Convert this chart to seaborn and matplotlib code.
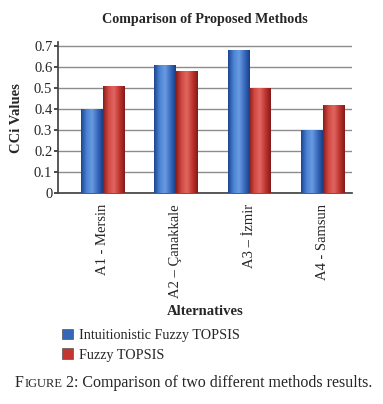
import matplotlib
matplotlib.use("Agg")
import matplotlib.pyplot as plt
import seaborn as sns
import pandas as pd
import numpy as np
from matplotlib.colors import LinearSegmentedColormap
from matplotlib.patches import Patch
from matplotlib.transforms import IdentityTransform

categories = ["A1 - Mersin", "A2 – Çanakkale", "A3 – İzmir", "A4 - Samsun"]
series_names = ["Intuitionistic Fuzzy TOPSIS", "Fuzzy TOPSIS"]
ifs_values = [0.40, 0.61, 0.68, 0.30]
fuzzy_values = [0.51, 0.58, 0.50, 0.42]
y_ticks = [0, 0.1, 0.2, 0.3, 0.4, 0.5, 0.6, 0.7]
y_tick_labels = ["0", "0.1", "0.2", "0.3", "0.4", "0.5", "0.6", "0.7"]

df = pd.DataFrame({
    "Alternative": categories * 2,
    "Method": [series_names[0]] * 4 + [series_names[1]] * 4,
    "Value": ifs_values + fuzzy_values,
})

sns.set_theme(style="white")
plt.rcParams["font.family"] = ["Liberation Serif", "DejaVu Serif"]

fig = plt.figure(figsize=(3.83, 4.04), dpi=100)
ax = fig.add_axes([0.151, 0.522, 0.768, 0.374])

palette = {series_names[0]: "#3566b8", series_names[1]: "#c23530"}
sns.barplot(data=df, x="Alternative", y="Value", hue="Method", palette=palette,
            width=0.59, ax=ax, legend=False, edgecolor="none", zorder=3)

# cylinder-like shading
cmaps = {
    "blue": LinearSegmentedColormap.from_list("b", ["#1d4590", "#4a82d4", "#6a9be0", "#3a6cbf", "#1a3f86"]),
    "red": LinearSegmentedColormap.from_list("r", ["#8a1c1a", "#d24a44", "#e06660", "#c03530", "#841a18"]),
}
grad = np.linspace(0, 1, 64).reshape(1, -1)
for i, p in enumerate(list(ax.patches)):
    x0, y0 = p.get_x(), p.get_y()
    w, h = p.get_width(), p.get_height()
    if h <= 0:
        continue
    cm = cmaps["blue"] if i < len(categories) else cmaps["red"]
    im = ax.imshow(grad, cmap=cm, extent=[x0, x0 + w, y0, y0 + h], aspect="auto", zorder=4)
    im.set_clip_path(p)

ax.set_ylim(0, 0.72)
ax.set_xlim(-0.61, 3.4)
ax.set_yticks(y_ticks)
ax.set_yticklabels(y_tick_labels, fontsize=10.5)
ax.yaxis.grid(True, color="#8c8c8c", linewidth=1.0, zorder=0)
ax.set_xticks(range(len(categories)))
ax.set_xticklabels(categories, rotation=90, fontsize=10.5, va="top")
ax.tick_params(axis="x", length=0, pad=8)
ax.tick_params(axis="y", length=3, pad=1, left=True, color="#333333")
for s in ["top", "right"]:
    ax.spines[s].set_visible(False)
ax.spines["left"].set_color("#444444")
ax.spines["bottom"].set_color("#444444")
ax.set_xlabel("Alternatives", fontsize=10.5, fontweight="bold", labelpad=5)
ax.set_ylabel("CCi Values", fontsize=10.5, fontweight="bold", labelpad=8)
ax.set_title("Comparison of Proposed Methods", fontsize=10.2, fontweight="bold", pad=14)

handles = [Patch(facecolor=palette[n], edgecolor="#555555", linewidth=0.5) for n in series_names]
fig.legend(handles, series_names, loc="upper left", bbox_to_anchor=(0.148, 0.2),
           frameon=False, prop={"family": ["Liberation Serif"], "size": 10.2},
           handlelength=0.75, handleheight=0.75,
           handletextpad=0.45, labelspacing=0.45, borderaxespad=0)

base_y = 0.042 * fig.bbox.height
t1 = fig.text(15, base_y, "F", fontsize=11.5, ha="left", va="baseline", transform=IdentityTransform())
fig.canvas.draw()
r = fig.canvas.get_renderer()
bb = t1.get_window_extent(r)
t2 = fig.text(bb.x1 + 0.3, base_y, "IGURE", fontsize=9.0, ha="left", va="baseline",
              transform=IdentityTransform())
fig.canvas.draw()
bb2 = t2.get_window_extent(r)
t3 = fig.text(bb2.x1 + 0.3, base_y, " 2: Comparison of two different methods results.",
              fontsize=11.5, ha="left", va="baseline", transform=IdentityTransform())
fig.savefig("out.png", dpi=100)
